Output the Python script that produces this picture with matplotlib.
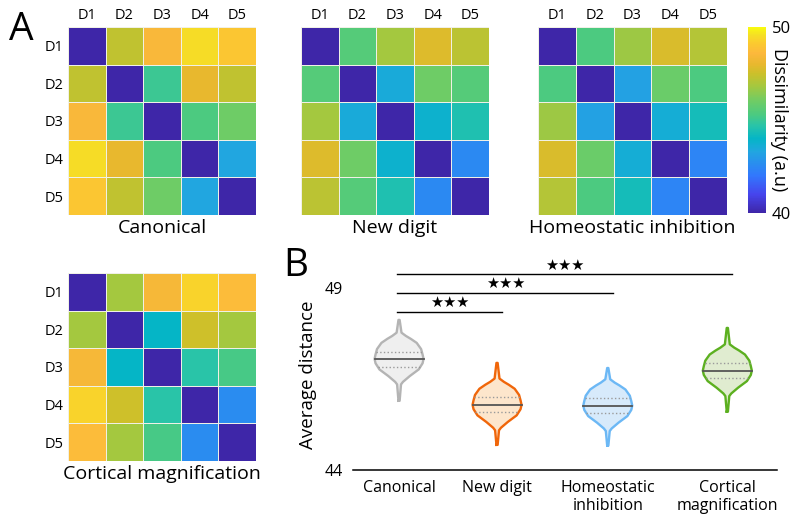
import numpy as np
import matplotlib.pyplot as plt
from matplotlib.colors import LinearSegmentedColormap

plt.rcParams['font.family'] = ['Open Sans', 'DejaVu Sans']

# ---- panel A: dissimilarity matrices (a.u., 40-50) ----
digits = ['D1', 'D2', 'D3', 'D4', 'D5']

canonical = [[40.0, 47.3, 48.5, 49.5, 49.0],
             [47.3, 40.0, 45.0, 48.0, 47.3],
             [48.5, 45.0, 40.0, 45.3, 46.0],
             [49.5, 48.0, 45.3, 40.0, 43.3],
             [49.0, 47.3, 46.0, 43.3, 40.0]]

new_digit = [[40.0, 45.5, 46.8, 47.8, 47.2],
             [45.5, 40.0, 43.5, 46.0, 45.5],
             [46.8, 43.5, 40.0, 43.8, 44.5],
             [47.8, 46.0, 43.8, 40.0, 42.5],
             [47.2, 45.5, 44.5, 42.5, 40.0]]

homeostatic = [[40.0, 45.3, 46.7, 47.7, 47.1],
               [45.3, 40.0, 43.2, 45.9, 45.3],
               [46.7, 43.2, 40.0, 43.6, 44.3],
               [47.7, 45.9, 43.6, 40.0, 42.4],
               [47.1, 45.3, 44.3, 42.4, 40.0]]

cortical = [[40.0, 46.8, 48.4, 49.3, 48.7],
            [46.8, 40.0, 44.0, 47.5, 46.8],
            [48.4, 44.0, 40.0, 44.7, 45.2],
            [49.3, 47.5, 44.7, 40.0, 42.6],
            [48.7, 46.8, 45.2, 42.6, 40.0]]

# ---- panel B: average distance distributions ----
groups = ['Canonical', 'New digit', 'Homeostatic\ninhibition', 'Cortical\nmagnification']
positions = [1.0, 2.0, 3.13, 4.35]
v_min = [45.90, 44.69, 44.67, 45.60]
v_max = [48.12, 46.94, 46.80, 47.90]
v_median = [47.05, 45.79, 45.77, 46.73]
v_q1 = [46.84, 45.59, 45.57, 46.53]
v_q3 = [47.25, 46.00, 45.98, 46.94]
edge_colors = ['#b4b4b4', '#f0660a', '#6cb8f5', '#5cb020']
fill_colors = ['#efefef', '#fde6cc', '#d7eafb', '#e0ecd0']

# density outline (offset from median, half width)
shape_dy = [-0.70, -0.63, -0.47, -0.29, -0.12, 0.0, 0.12, 0.27, 0.44, 0.55, 0.63, 0.72]
shape_w = [0.02, 0.04, 0.11, 0.20, 0.24, 0.25, 0.24, 0.225, 0.18, 0.12, 0.07, 0.025]

# significance brackets: (group from, group to, height)
sig_pairs = [(0, 1, 48.35), (0, 2, 48.87), (0, 3, 49.38)]

# parula-like colour map
cmap_colors = [(0.00, '#3e26a8'), (0.10, '#4645ed'), (0.20, '#3278fd'),
               (0.26, '#2a8cf0'), (0.33, '#21a6e0'), (0.40, '#05b5c6'),
               (0.47, '#29c4a8'), (0.53, '#4cca80'), (0.60, '#6ecc66'),
               (0.68, '#a3c840'), (0.75, '#ccc02a'), (0.80, '#e8b82e'),
               (0.86, '#fcb83c'), (0.92, '#fbcc2e'), (0.96, '#f5e024'),
               (1.00, '#f9fb0e')]
parula = LinearSegmentedColormap.from_list('parula_like', cmap_colors)

W, H = 800, 524
fig = plt.figure(figsize=(W / 100, H / 100), dpi=100)


def px_axes(x0, y0, x1, y1):
    return fig.add_axes([x0 / W, 1 - y1 / H, (x1 - x0) / W, (y1 - y0) / H])


def heatmap(ax, mat, title, col_labels, row_labels):
    m = ax.pcolormesh(np.array(mat), cmap=parula, vmin=40, vmax=50,
                      edgecolors='#f0f0e6', linewidth=0.6)
    ax.set_xlim(0, 5)
    ax.set_ylim(5, 0)
    ax.set_xticks(np.arange(5) + 0.5)
    ax.set_yticks(np.arange(5) + 0.5)
    ax.xaxis.tick_top()
    ax.set_xticklabels(digits if col_labels else [], fontsize=10.5)
    ax.set_yticklabels(digits if row_labels else [], fontsize=10.5)
    ax.tick_params(length=0, pad=3)
    for s in ax.spines.values():
        s.set_visible(False)
    ax.set_xlabel(title, fontsize=14, labelpad=3)
    ax.xaxis.set_label_position('bottom')
    return m


ax1 = px_axes(68, 27, 256, 215)
heatmap(ax1, canonical, 'Canonical', True, True)
ax2 = px_axes(301, 27, 489, 215)
heatmap(ax2, new_digit, 'New digit', True, False)
ax3 = px_axes(538, 27, 727, 215)
mesh = heatmap(ax3, homeostatic, 'Homeostatic inhibition', True, False)
ax4 = px_axes(68, 273, 256, 461)
heatmap(ax4, cortical, 'Cortical magnification', False, True)

cax = px_axes(748, 27, 766, 213)
cb = fig.colorbar(mesh, cax=cax, ticks=[40, 50])
cb.outline.set_visible(False)
cb.ax.tick_params(length=0, labelsize=12, pad=4)
cb.set_label('Dissimilarity (a.u)', rotation=270, fontsize=13, labelpad=-2)

fig.text(9 / W, 1 - 40 / H, 'A', fontsize=28)
fig.text(283 / W, 1 - 276 / H, 'B', fontsize=28)

# violins
axb = px_axes(353, 258, 777, 470)
axb.set_xlim(0.53, 4.857)
axb.set_ylim(44, 49.82)
for i, x in enumerate(positions):
    ys = [v_min[i]] + [v_median[i] + d for d in shape_dy] + [v_max[i]]
    ws = [0.006] + shape_w + [0.006]
    ys, ws = np.array(ys), np.array(ws)
    axb.fill_betweenx(ys, x - ws, x + ws, color=fill_colors[i], lw=0)
    axb.plot(np.r_[x - ws, (x + ws)[::-1], x - ws[0]], np.r_[ys, ys[::-1], ys[0]],
             color=edge_colors[i], lw=1.7, solid_joinstyle='round')
    for q, st, c, lw in [(v_median[i], '-', '#555555', 1.3),
                         (v_q1[i], ':', '#9a9a9a', 1.0),
                         (v_q3[i], ':', '#9a9a9a', 1.0)]:
        hw = np.interp(q, ys, ws)
        axb.plot([x - hw, x + hw], [q, q], ls=st, color=c, lw=lw)

for a, b, h in sig_pairs:
    xa, xb = positions[a], positions[b]
    axb.plot([xa - 0.02, xb + 0.05], [h, h], color='black', lw=1)
    axb.text((xa + xb) / 2 + 0.02, h + 0.04, '\u2605\u2605\u2605', ha='center',
             va='bottom', fontsize=10.5, family='DejaVu Sans')

axb.set_xticks(positions)
axb.set_xticklabels(groups, fontsize=11.5, linespacing=1.2)
axb.set_yticks([44, 49])
axb.tick_params(length=0, labelsize=11.5, pad=7)
for s in ['left', 'top', 'right']:
    axb.spines[s].set_visible(False)
axb.spines['bottom'].set_linewidth(1.1)
axb.set_ylabel('Average distance', fontsize=13.5)
axb.yaxis.set_label_coords(-0.085, 0.45)

fig.savefig('out.png', dpi=100)
